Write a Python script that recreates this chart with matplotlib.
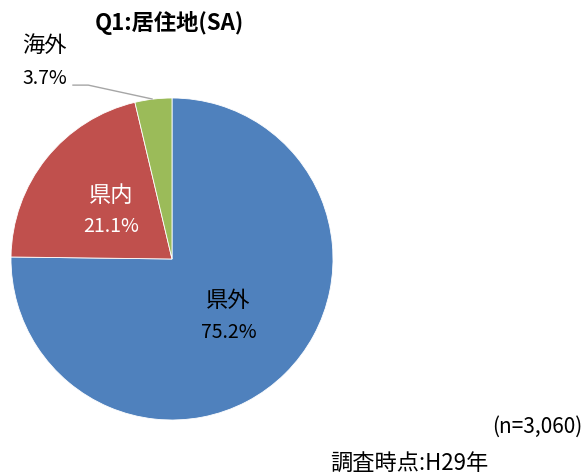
import matplotlib
matplotlib.use('Agg')
import matplotlib.pyplot as plt

plt.rcParams['font.family'] = ['Noto Sans CJK JP', 'DejaVu Sans']

# data
labels = ['県外', '県内', '海外']
values = [75.2, 21.1, 3.7]
colors = ['#4F81BD', '#C0504D', '#9BBB59']
label_colors = ['black', 'white', 'black']

fig = plt.figure(figsize=(5.86, 4.77), dpi=100)
ax = fig.add_axes([11 / 586, 56 / 477, 322 / 586, 322 / 477])

wedges, _ = ax.pie(values, colors=colors, startangle=90, counterclock=False,
                   radius=1, wedgeprops=dict(linewidth=0.6, edgecolor='white'))
ax.set_xlim(-1, 1)
ax.set_ylim(-1, 1)
ax.set_aspect('equal')
ax.axis('off')

# label positions (data coords of pie)
pos = [(0.35, -0.25, -0.45), (-0.38, 0.40, 0.205), (-0.79, 1.335, 1.13)]
for (x, y1, y2), lab, v, c in zip(pos, labels, values, label_colors):
    ax.text(x, y1, lab, ha='center', va='center', fontsize=16, color=c, clip_on=False)
    ax.text(x, y2, f'{v}%', ha='center', va='center', fontsize=14, color=c, clip_on=False)

# leader line for 海外
ax.plot([-0.615, -0.52, -0.124], [1.08, 1.08, 0.994], color='#A6A6A6', lw=1, clip_on=False)

fig.text(169 / 586, 1 - 23 / 477, 'Q1:居住地(SA)', ha='center', va='center',
         fontsize=16, fontweight='bold')
fig.text(582 / 586, 1 - 427 / 477, '(n=3,060)', ha='right', va='center', fontsize=15)
fig.text(330 / 586, 1 - 463 / 477, '調査時点:H29年', ha='left', va='center', fontsize=16)

fig.savefig('out.png', dpi=100)
